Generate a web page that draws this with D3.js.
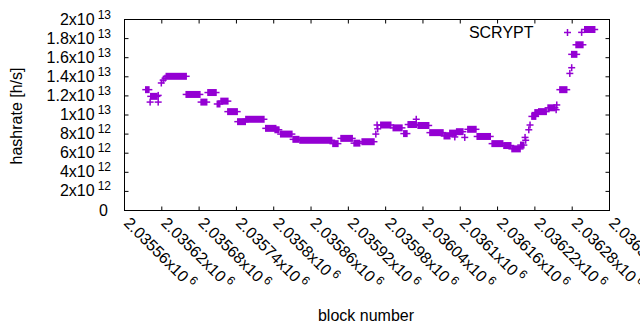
<!DOCTYPE html>
<html lang="en">
<head>
<meta charset="UTF-8">
<title>SCRYPT hashrate</title>
<script src="https://cdn.jsdelivr.net/npm/d3@7"></script>
<style>
body{margin:0;background:#fff;}
text{font-family:"Liberation Sans",Arial,sans-serif;font-size:16px;fill:#000;}
.axis path{stroke:none;}
.axis line{stroke:#000;stroke-width:1;}
</style>
</head>
<body>
<script>
// each run = blocks sharing one hashrate (first block, last block, rate in 1e12 h/s)
var runFrom=[2035595,2035602,2035603,2035615,2035615,2035620,2035623,2035626,2035628,2035660,
  2035684,2035695,2035710,2035716,2035727,2035743,2035756,2035788,2035803,2035812,
  2035832,2035843,2035896,2035909,2035930,2035943,2035965,2035967,2035968,2035973,
  2035993,2036010,2036017,2036030,2036033,2036052,2036075,2036084,2036092,2036095,
  2036108,2036113,2036128,2036152,2036171,2036184,2036198,2036205,2036206,2036211,
  2036213,2036216,2036221,2036227,2036242,2036255,2036256,2036261,2036277,2036280,
  2036280,2036287,2036296,2036301];
var runTo=[2035600,2035602,2035613,2035615,2035615,2035620,2035623,2035626,2035660,2035682,
  2035693,2035708,2035714,2035727,2035742,2035755,2035785,2035804,2035809,2035830,
  2035841,2035894,2035904,2035927,2035939,2035962,2035965,2035967,2035968,2035989,
  2036007,2036015,2036030,2036030,2036050,2036073,2036084,2036094,2036092,2036105,
  2036108,2036126,2036149,2036169,2036182,2036197,2036203,2036205,2036206,2036211,
  2036213,2036222,2036226,2036239,2036253,2036255,2036256,2036272,2036277,2036280,
  2036288,2036298,2036296,2036317];
var runRate=[12.6,11.3,11.9,11.3,12.0,13.3,13.6,13.8,14.0,12.1,
  11.3,12.3,11.1,11.4,10.3,9.25,9.5,8.55,8.4,7.95,
  7.4,7.3,6.95,7.5,7.0,7.15,7.95,8.9,8.5,8.9,
  8.6,8.0,8.95,9.5,8.85,8.1,7.75,8.05,7.65,8.2,
  7.6,8.45,7.7,6.95,6.75,6.4,6.8,7.6,7.3,8.4,
  8.9,9.8,10.2,10.3,10.7,10.5,11.0,12.6,14.3,14.9,
  16.3,17.3,18.6,18.9];

var xTicks=[2035560,2035620,2035680,2035740,2035800,2035860,2035920,2035980,2036040,2036100,2036160,2036220,2036280,2036340];
var xTickMant=["2.03556","2.03562","2.03568","2.03574","2.0358","2.03586","2.03592","2.03598","2.03604","2.0361","2.03616","2.03622","2.03628","2.03634"];
var xTickExp="6";
var yTicks=[0,2e12,4e12,6e12,8e12,1e13,1.2e13,1.4e13,1.6e13,1.8e13,2e13];
var yTickMant=["0","2","4","6","8","1","1.2","1.4","1.6","1.8","2"];
var yTickExp=["","12","12","12","12","13","13","13","13","13","13"];

var W=640,H=330;
var pLeft=124,pRight=609,pTop=19,pBottom=210;
var color="#9400d3";
var h=3.5;

var svg=d3.select("body").append("svg").attr("width",W).attr("height",H);

var x=d3.scaleLinear().domain([2035560,2036340]).range([pLeft,pRight]);
var y=d3.scaleLinear().domain([0,2e13]).range([pBottom,pTop]);

// tick marks on all four sides, pointing in
svg.append("g").attr("class","axis").attr("transform","translate(0,"+(pBottom+0.5)+")")
  .call(d3.axisBottom(x).tickValues(xTicks).tickSize(-4).tickFormat(""));
svg.append("g").attr("class","axis").attr("transform","translate(0,"+(pTop+0.5)+")")
  .call(d3.axisTop(x).tickValues(xTicks).tickSize(-4).tickFormat(""));
svg.append("g").attr("class","axis").attr("transform","translate("+(pLeft+0.5)+",0)")
  .call(d3.axisLeft(y).tickValues(yTicks).tickSize(-4).tickFormat(""));
svg.append("g").attr("class","axis").attr("transform","translate("+(pRight+0.5)+",0)")
  .call(d3.axisRight(y).tickValues(yTicks).tickSize(-4).tickFormat(""));

svg.append("rect").attr("x",pLeft+0.5).attr("y",pTop+0.5)
  .attr("width",pRight-pLeft).attr("height",pBottom-pTop)
  .attr("fill","none").attr("stroke","#000").attr("stroke-width",1);

// y tick labels
var yl=svg.append("g").selectAll("text").data(yTicks).enter().append("text")
  .attr("text-anchor","end")
  .attr("x",function(d,i){return yTickExp[i]?111:108;})
  .attr("y",function(d){return y(d)+5.5;});
yl.append("tspan").text(function(d,i){return yTickMant[i]+(yTickExp[i]?"x10":"");});
yl.append("tspan").attr("dx",3).attr("dy",-6).style("font-size","12px")
  .text(function(d,i){return yTickExp[i];});

// x tick labels, rotated
var xl=svg.append("g").selectAll("text").data(xTicks).enter().append("text")
  .attr("transform",function(d){return "translate("+(x(d)-1)+","+(pBottom+14)+") rotate(45)";});
xl.append("tspan").text(function(d,i){return xTickMant[i]+"x10";});
xl.append("tspan").attr("dx",3).attr("dy",-6).style("font-size","12px").text(xTickExp);

// axis titles
svg.append("text").attr("text-anchor","middle")
  .attr("transform","translate(22,116) rotate(-90)").text("hashrate [h/s]");
svg.append("text").attr("text-anchor","middle").attr("x",366).attr("y",321).text("block number");

// points: runs of "+" markers
var runs=svg.append("g").selectAll("g").data(runRate).enter().append("g");
runs.append("rect")
  .attr("x",function(d,i){return x(runFrom[i])-0.75;})
  .attr("y",function(d){return y(d*1e12)-h;})
  .attr("width",function(d,i){return x(runTo[i])-x(runFrom[i])+1.5;})
  .attr("height",2*h)
  .attr("fill",color);
runs.append("line")
  .attr("x1",function(d,i){return x(runFrom[i])-h;})
  .attr("x2",function(d,i){return x(runTo[i])+h;})
  .attr("y1",function(d){return y(d*1e12);})
  .attr("y2",function(d){return y(d*1e12);})
  .attr("stroke",color).attr("stroke-width",1.5);

// key
svg.append("text").attr("text-anchor","end").attr("x",533.5).attr("y",37.5).text("SCRYPT");
var kx=567.5,ky=32.5;
svg.append("path").attr("d","M"+(kx-h)+","+ky+"H"+(kx+h)+"M"+kx+","+(ky-h)+"V"+(ky+h))
  .attr("stroke",color).attr("stroke-width",1.5).attr("fill","none");
</script>
</body>
</html>
